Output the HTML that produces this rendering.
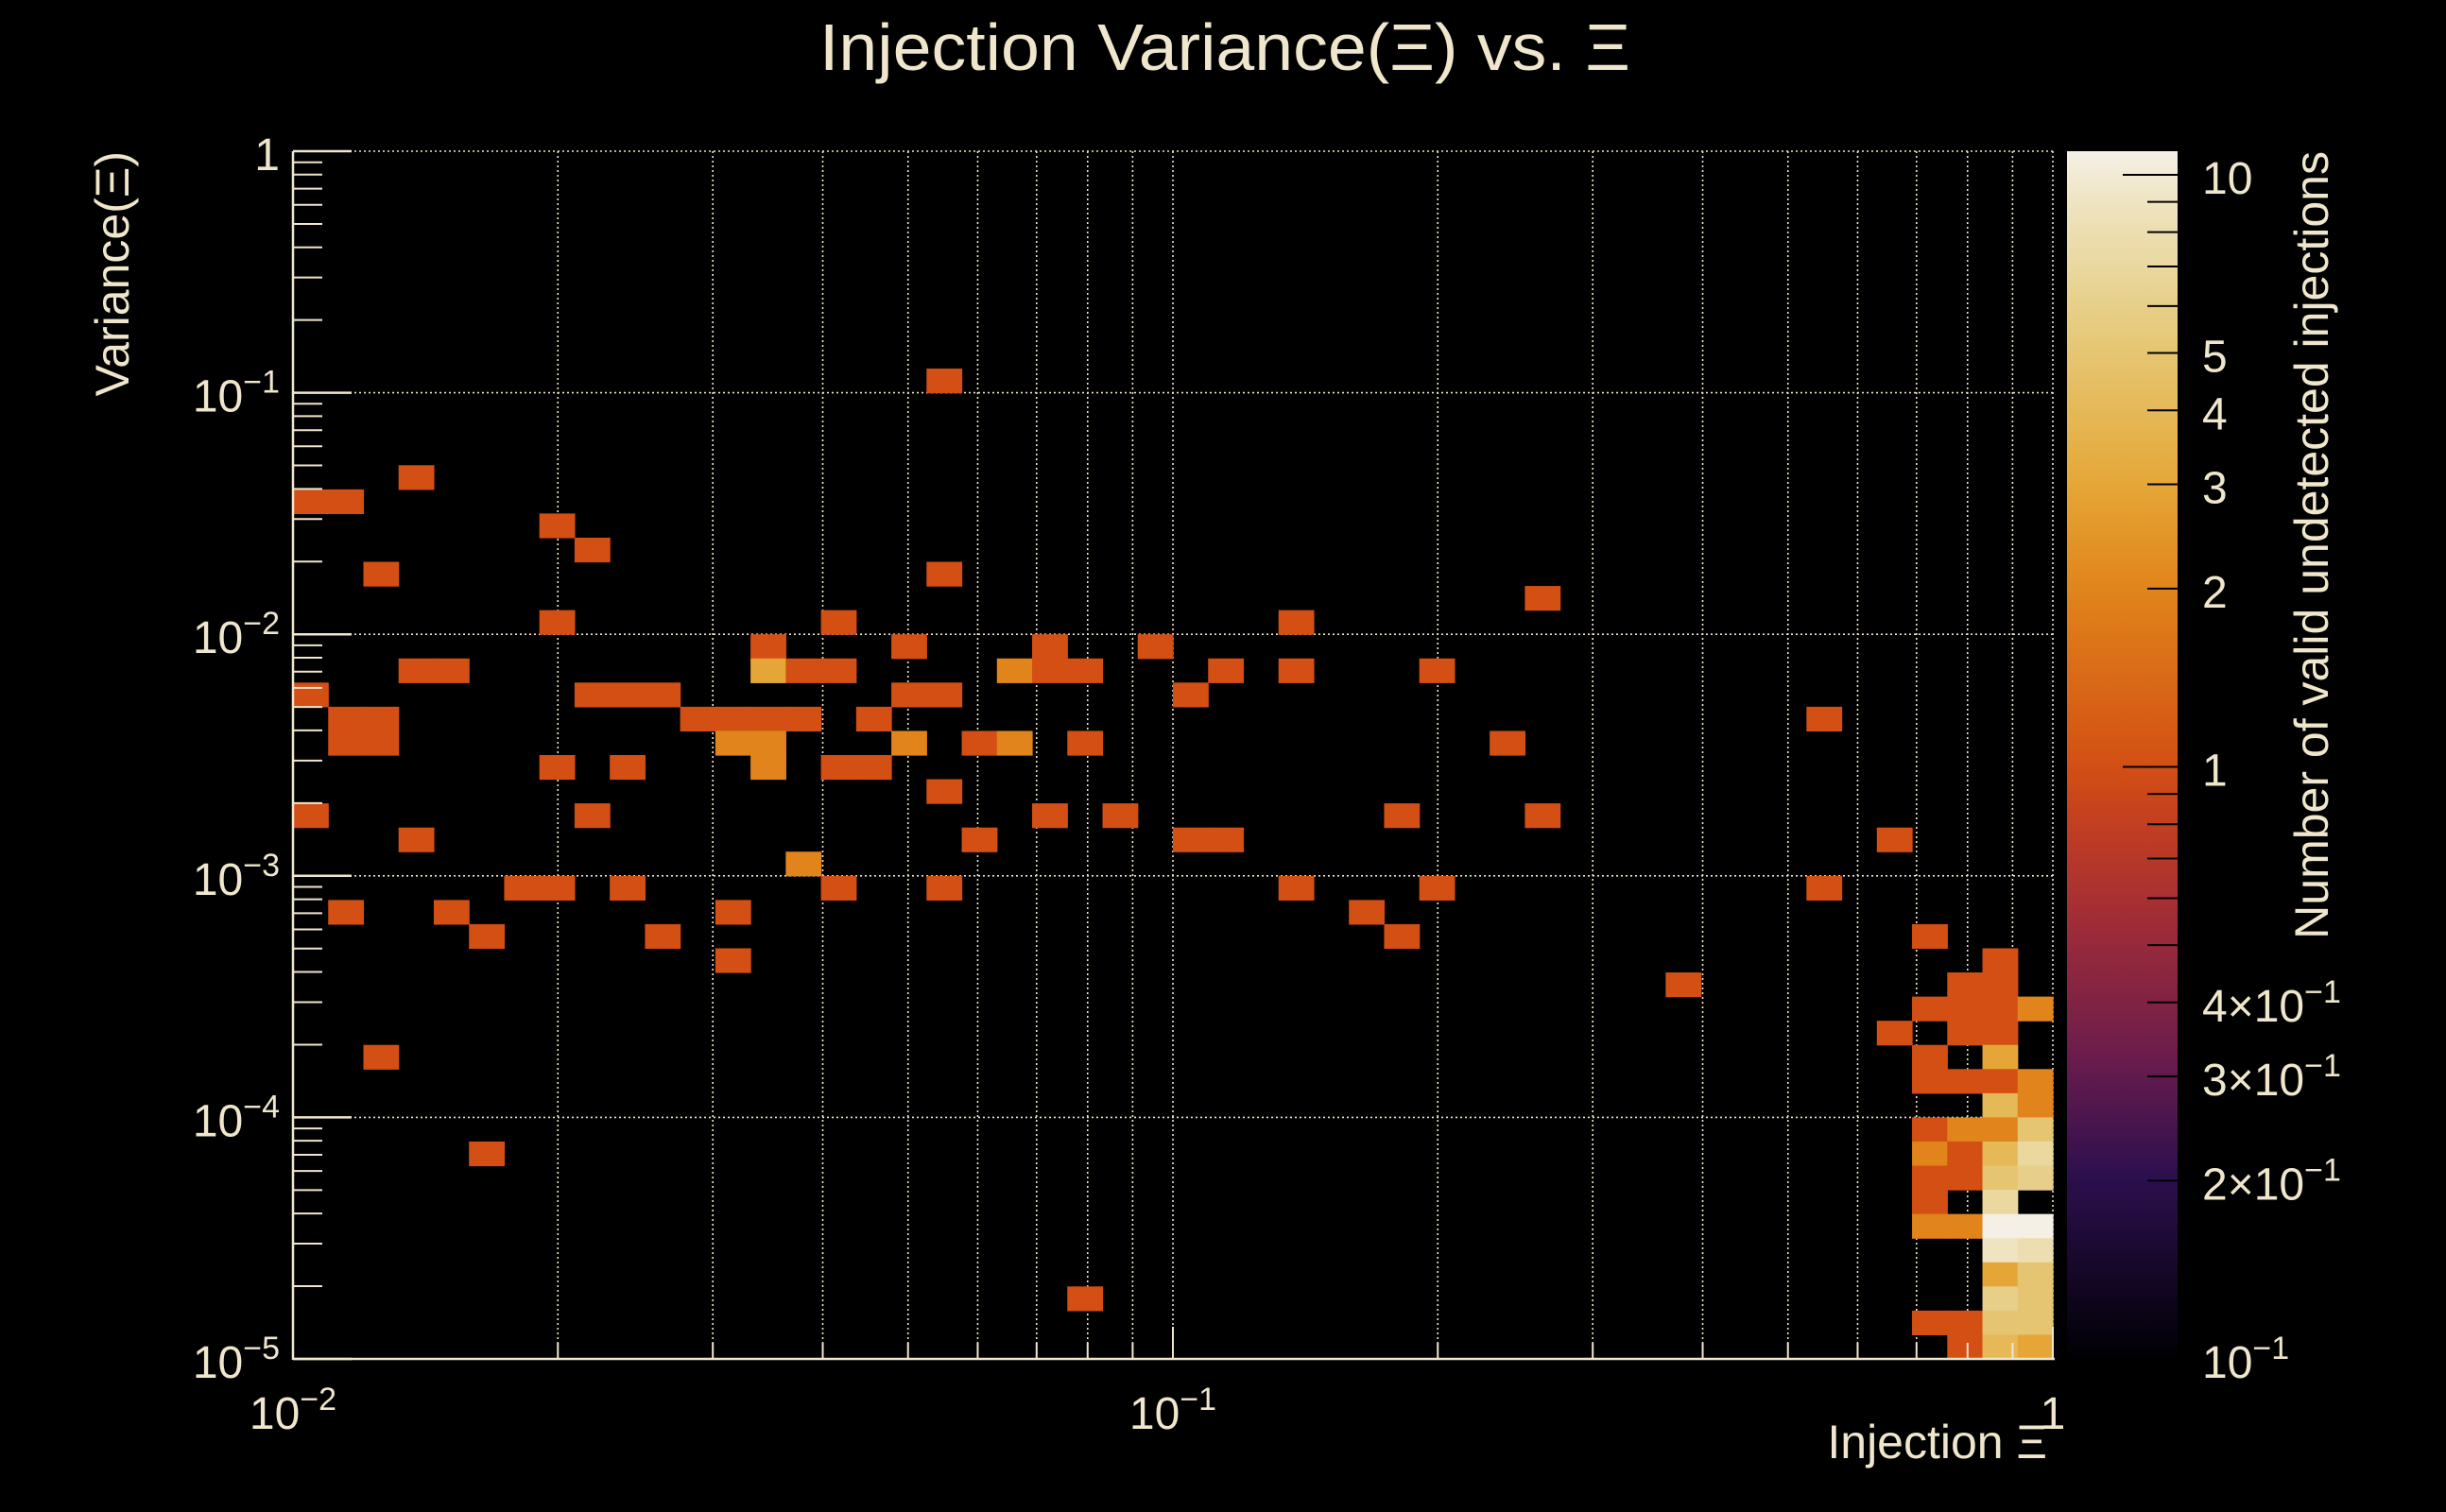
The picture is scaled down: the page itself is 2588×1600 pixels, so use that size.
<!DOCTYPE html>
<html><head><meta charset="utf-8"><title>Injection Variance vs Xi</title>
<style>
html,body{margin:0;padding:0;background:#000;}
svg{display:block;}
text{font-family:"Liberation Sans",sans-serif;fill:#efe6cc;}
</style></head>
<body>
<svg id="chart" xmlns="http://www.w3.org/2000/svg" width="2588" height="1600" viewBox="0 0 2588 1600">
<rect x="0" y="0" width="2588" height="1600" fill="#000"/>
<text x="1296" y="74" font-size="70" text-anchor="middle" textLength="858" lengthAdjust="spacingAndGlyphs">Injection Variance(Ξ) vs. Ξ</text>
<g id="grid"></g>
<g id="cells"></g>
<g id="axes"></g>
<g id="cbar"></g>
<text x="2166" y="1543" font-size="50" text-anchor="end">Injection Ξ</text>
<text transform="translate(136,160) rotate(-90)" font-size="50" text-anchor="end">Variance(Ξ)</text>
<text transform="translate(2463,160) rotate(-90)" font-size="50" text-anchor="end">Number of valid undetected injections</text>
</svg>
<script>
// ---- data: bin indices (x: 50 log bins over 1e-2..1, y: 50 log bins over 1e-5..1) ----
const xBins = [18,3,0,1,7,8,2,18,35,7,15,28,13,17,21,24,3,4,13,14,15,20,21,22,26,28,32,0,8,9,10,17,18,25,1,2,11,12,13,14,16,43,1,2,12,13,17,19,20,22,34,7,9,13,15,16,18,0,8,21,23,31,35,3,19,25,26,45,14,6,7,9,15,18,28,32,43,1,4,12,30,5,10,31,46,12,48,39,47,48,46,47,48,49,45,47,48,2,46,48,46,47,48,49,48,49,46,47,48,49,5,46,47,48,49,46,47,48,49,46,48,46,47,48,49,48,49,48,49,22,48,49,46,47,48,49,47,48,49];
const yRowsFromTop = [9,13,14,14,15,16,17,17,18,19,19,19,20,20,20,20,21,21,21,21,21,21,21,21,21,21,21,22,22,22,22,22,22,22,23,23,23,23,23,23,23,23,24,24,24,24,24,24,24,24,24,25,25,25,25,25,26,27,27,27,27,27,27,28,28,28,28,28,29,30,30,30,30,30,30,30,30,31,31,31,31,32,32,32,32,33,33,34,34,34,35,35,35,35,36,36,36,37,37,37,38,38,38,38,39,39,40,40,40,40,41,41,41,41,41,42,42,42,42,43,43,44,44,44,44,45,45,46,46,47,47,47,48,48,48,48,49,49,49];
const counts = [1,1,1,1,1,1,1,1,1,1,1,1,1,1,1,1,1,1,3,1,1,2,1,1,1,1,1,1,1,1,1,1,1,1,1,1,1,1,1,1,1,1,1,1,2,2,2,1,2,1,1,1,1,2,1,1,1,1,1,1,1,1,1,1,1,1,1,1,2,1,1,1,1,1,1,1,1,1,1,1,1,1,1,1,1,1,1,1,1,1,1,1,1,2,1,1,1,1,1,3,1,1,1,2,4,2,1,2,2,5,1,2,1,4,7,1,1,5,6,1,7,2,2,11,11,9,8,3,5,1,6,5,1,1,5,5,1,4,3];
const xTickLabels = ["10","10","1"];
const xTickExps = ["−2","−1",""];
const yTickExps = ["","−1","−2","−3","−4","−5"];
const zTickValues = [10,5,4,3,2,1,0.4,0.3,0.2,0.1];
const zTickTexts = [["10",""],["5",""],["4",""],["3",""],["2",""],["1",""],["4×10","−1"],["3×10","−1"],["2×10","−1"],["10","−1"]];

// ---- geometry / scales ----
const X0=310,X1=2172,Y0=160,Y1=1438;
const NX=50,NY=50;
const xMinL=-2,xMaxL=0,yMinL=-5,yMaxL=0;
const zMinL=-1,zMaxL=Math.log10(10.96);
const CB0=2187,CB1=2304;
function xs(v){return X0+(Math.log10(v)-xMinL)/(xMaxL-xMinL)*(X1-X0);}
function ys(v){return Y1-(Math.log10(v)-yMinL)/(yMaxL-yMinL)*(Y1-Y0);}
function zs(v){return Y1-(Math.log10(v)-zMinL)/(zMaxL-zMinL)*(Y1-Y0);}
function xEdge(i){return Math.pow(10,xMinL+i*(xMaxL-xMinL)/NX);}
function yEdge(j){return Math.pow(10,yMinL+j*(yMaxL-yMinL)/NY);}

const stops=[[0,[0,0,4]],[0.15,[44,15,78]],[0.25,[107,28,76]],[0.35,[154,42,58]],[0.44,[194,61,34]],[0.49,[211,79,20]],[0.64,[224,133,27]],[0.72,[229,165,53]],[0.78,[229,183,85]],[0.83,[230,196,112]],[0.87,[231,207,136]],[0.91,[234,217,162]],[0.96,[239,228,195]],[1,[244,240,230]]];
function cmap(t){t=Math.max(0,Math.min(1,t));for(let i=1;i<stops.length;i++){if(t<=stops[i][0]){const a=stops[i-1],b=stops[i];const f=(t-a[0])/(b[0]-a[0]);const c=a[1].map((v,k)=>Math.round(v+(b[1][k]-v)*f));return `rgb(${c[0]},${c[1]},${c[2]})`;}}return 'rgb(244,240,230)';}
function zColor(z){return cmap((Math.log10(z)-zMinL)/(zMaxL-zMinL));}

const NS="http://www.w3.org/2000/svg";
function mk(tag,attrs,parent){const e=document.createElementNS(NS,tag);for(const k in attrs)e.setAttribute(k,attrs[k]);parent.appendChild(e);return e;}
const CREAM="#efe6cc";

// grid
const grid=document.getElementById('grid');
for(let d=-2;d<0;d++){for(let k=1;k<=9;k++){const v=k*Math.pow(10,d);const x=xs(v);
 const l=mk('line',{x1:x,x2:x,y1:Y0,y2:Y1,stroke:CREAM,'stroke-width':1.6,'stroke-dasharray':'2,3'},grid);
 
 }}
{const x=xs(1);const l=mk('line',{x1:x,x2:x,y1:Y0,y2:Y1,stroke:CREAM,'stroke-width':1.6,'stroke-dasharray':'2,3'},grid);
 
 }
for(let d=-5;d<=0;d++){const y=ys(Math.pow(10,d));
 const l=mk('line',{x1:X0,x2:X1,y1:y,y2:y,stroke:CREAM,'stroke-width':1.6,'stroke-dasharray':'2,3'},grid);
 
 }

// cells
const cells=document.getElementById('cells');
for(let n=0;n<counts.length;n++){
 const i=xBins[n];const j=NY-1-yRowsFromTop[n];
 const xa=xs(xEdge(i)),xb=xs(xEdge(i+1)),ya=ys(yEdge(j+1)),yb=ys(yEdge(j));
 const r=mk('rect',{x:xa,y:ya,width:xb-xa+0.6,height:yb-ya+0.6,fill:zColor(counts[n])},cells);
 
 
}

// axes
const axes=document.getElementById('axes');
mk('line',{x1:X0,x2:X0,y1:Y0,y2:Y1+1,stroke:CREAM,'stroke-width':2.5},axes);
mk('line',{x1:X0,x2:X1+2,y1:Y1,y2:Y1,stroke:CREAM,'stroke-width':2.5},axes);
for(let d=-5;d<=0;d++){
 const y=ys(Math.pow(10,d));
 mk('line',{x1:X0,x2:X0+62,y1:y,y2:y,stroke:CREAM,'stroke-width':2.5},axes);
 if(d<0){for(let k=2;k<=9;k++){const yy=ys(k*Math.pow(10,d));mk('line',{x1:X0,x2:X0+31,y1:yy,y2:yy,stroke:CREAM,'stroke-width':2},axes);}}
 const t=mk('text',{x:296,y:y+20,'font-size':48,'text-anchor':'end'},axes);
 
 
 const e=yTickExps[-d];
 if(e===""){t.textContent="1";}else{
  const a=mk('tspan',{},t);a.textContent="10";
  const b=mk('tspan',{dy:-20,'font-size':34},t);b.textContent=e;}
}
for(let d=-2;d<=0;d++){
 const x=xs(Math.pow(10,d));
 mk('line',{x1:x,x2:x,y1:Y1,y2:Y1-34,stroke:CREAM,'stroke-width':2},axes);
 if(d<0){for(let k=2;k<=9;k++){const xx=xs(k*Math.pow(10,d));mk('line',{x1:xx,x2:xx,y1:Y1,y2:Y1-17,stroke:CREAM,'stroke-width':2},axes);}}
 const idx=d+2;
 const t=mk('text',{x:x,y:1512,'font-size':48,'text-anchor':'middle'},axes);
 
 
 const a=mk('tspan',{},t);a.textContent=xTickLabels[idx];
 if(xTickExps[idx]){const b=mk('tspan',{dy:-20,'font-size':34},t);b.textContent=xTickExps[idx];}
}

// colorbar
const cbar=document.getElementById('cbar');
const defs=mk('defs',{},cbar);
const lg=mk('linearGradient',{id:'cbg',x1:0,y1:1,x2:0,y2:0},defs);
for(let s=0;s<=40;s++){mk('stop',{offset:s/40,'stop-color':cmap(s/40)},lg);}
const cr=mk('rect',{x:CB0,y:Y0,width:CB1-CB0,height:Y1-Y0,fill:'url(#cbg)'},cbar);


for(let d=-1;d<=1;d++){for(let k=1;k<=9;k++){const v=k*Math.pow(10,d);if(Math.log10(v)>zMaxL)continue;const y=zs(v);
 mk('line',{x1:CB1,x2:CB1-(k===1?58:32),y1:y,y2:y,stroke:'#000','stroke-width':2},cbar);}}
for(let n=0;n<zTickValues.length;n++){
 const y=zs(zTickValues[n]);
 const t=mk('text',{x:2330,y:y+20,'font-size':48},cbar);
 
 
 const a=mk('tspan',{},t);a.textContent=zTickTexts[n][0];
 if(zTickTexts[n][1]){const b=mk('tspan',{dy:-20,'font-size':34},t);b.textContent=zTickTexts[n][1];}
}
</script>
</body></html>
